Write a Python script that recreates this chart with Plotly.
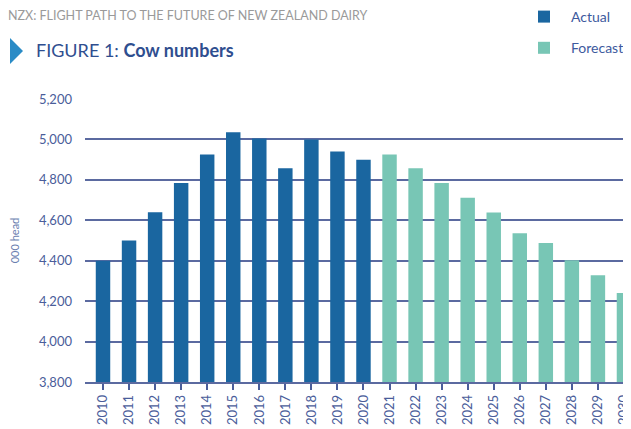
import plotly.graph_objects as go

years_actual = ["2010", "2011", "2012", "2013", "2014", "2015", "2016", "2017", "2018", "2019", "2020"]
values_actual = [4400, 4500, 4640, 4785, 4925, 5035, 5005, 4857, 5000, 4940, 4900]
years_forecast = ["2021", "2022", "2023", "2024", "2025", "2026", "2027", "2028", "2029", "2030"]
values_forecast = [4925, 4857, 4785, 4712, 4638, 4536, 4488, 4402, 4328, 4240]
y_ticks = [3800, 4000, 4200, 4400, 4600, 4800, 5000, 5200]
y_tick_labels = ["3,800", "4,000", "4,200", "4,400", "4,600", "4,800", "5,000", "5,200"]

FONT = "Lato"
LABEL = "#4a5d9a"

# figure pixel geometry (page body adds an 8px offset)
W, H = 623, 421
L, T, B = 77, 91, 47
PW, PH = W - L, H - T - B


def px(x):
    return (x - L) / PW


def py(y):
    return 1 - (y - T) / PH


fig = go.Figure()
fig.add_trace(go.Bar(x=years_actual, y=values_actual, name="Actual",
                     marker=dict(color="#1a66a0", line=dict(width=0)), legendgroup="a"))
fig.add_trace(go.Bar(x=years_forecast, y=values_forecast, name="Forecast",
                     marker=dict(color="#78c6b5", line=dict(width=0)), legendgroup="f"))

fig.update_layout(
    width=W, height=H,
    margin=dict(l=L, r=0, t=T, b=B, pad=0, autoexpand=False),
    paper_bgcolor="white", plot_bgcolor="white",
    barmode="overlay", bargap=0.445,
    font=dict(family=FONT, color=LABEL, size=12),
    showlegend=True,
    legend=dict(x=px(509), y=py(-7), xref="paper", yref="paper", xanchor="left", yanchor="top",
                font=dict(size=14, color="#3d5a9e"), traceorder="grouped", tracegroupgap=10,
                itemwidth=44, bgcolor="rgba(0,0,0,0)"),
    xaxis=dict(type="category", categoryorder="array", categoryarray=years_actual + years_forecast,
               range=[-0.691, 20.27], tickangle=-90, ticks="outside", ticklen=6, tickcolor="#4a5d9a",
               tickwidth=1.5, showline=True, linecolor="#5b6aa0", linewidth=1.5, showgrid=False,
               ticklabeloverflow="allow", tickfont=dict(size=13, color=LABEL)),
    yaxis=dict(range=[3800, 5200], tickvals=y_ticks, ticktext=y_tick_labels, showgrid=True,
               gridcolor="#5b6aa0", gridwidth=1.5, zeroline=False, showline=False, ticks="",
               ticklabelstandoff=12, tickfont=dict(size=13, color=LABEL),
               title=dict(text="000 head", font=dict(size=11, color="#6b7fb0"), standoff=22)),
)

fig.add_annotation(text="NZX: FLIGHT PATH TO THE FUTURE OF NEW ZEALAND DAIRY", xref="paper", yref="paper",
                   x=px(-2), y=py(7), xanchor="left", yanchor="middle", showarrow=False,
                   font=dict(size=12.5, color="#9a9a9a", family=FONT))
fig.add_annotation(text="FIGURE 1: <b>Cow numbers</b>", xref="paper", yref="paper",
                   x=px(26), y=py(42), xanchor="left", yanchor="middle", showarrow=False,
                   font=dict(size=18, color="#2f4e8f", family=FONT))
fig.add_shape(type="path", xref="paper", yref="paper",
              path="M {x0},{y0} L {x1},{y1} L {x0},{y2} Z".format(
                  x0=px(2), y0=py(30), x1=px(15), y1=py(43), y2=py(56)),
              fillcolor="#2a8bc6", line=dict(width=0))

fig.write_html("out.html")
